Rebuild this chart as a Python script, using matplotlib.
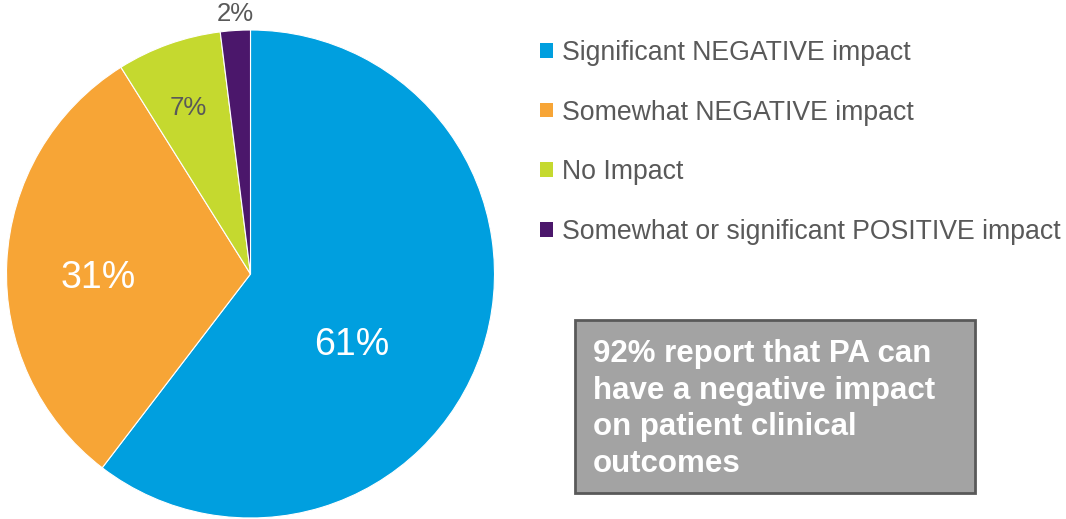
import matplotlib.pyplot as plt
from matplotlib.patches import Rectangle

plt.rcParams['font.family'] = ['Liberation Sans', 'DejaVu Sans']

# survey answers
categories = [
    "Significant NEGATIVE impact",
    "Somewhat NEGATIVE impact",
    "No Impact",
    "Somewhat or significant POSITIVE impact",
]
shares = [61, 31, 7, 2]
colors = ["#009FDF", "#F7A536", "#C5D92F", "#4B176B"]

# where each percentage sits (pixels from top-left), and its colour
label_pos = [(352, 345), (98, 278), (188, 108), (235, 14)]
label_colors = ["white", "white", "#595959", "#595959"]
label_sizes = [27, 27, 18.5, 18.5]

callout = "92% report that PA can\nhave a negative impact\non patient clinical\noutcomes"

W, H = 1066, 519
fig = plt.figure(figsize=(W / 100, H / 100), dpi=100)
ax = fig.add_axes([0, 0, 1, 1])

wedges, _ = ax.pie(
    shares,
    colors=colors,
    startangle=90,
    counterclock=False,
    center=(250.5, H - 274),
    radius=244,
    wedgeprops=dict(edgecolor="white", linewidth=0.8),
    frame=True,
)
ax.set_xlim(0, W)
ax.set_ylim(0, H)
ax.axis("off")

for v, (x, y), c, s in zip(shares, label_pos, label_colors, label_sizes):
    ax.text(x, H - y, f"{v}%", color=c, fontsize=s, ha="center", va="center")

leg = ax.legend(
    wedges, categories,
    loc="upper left",
    bbox_to_anchor=(540 / W, 1 - 40 / H),
    frameon=False,
    fontsize=19.2,
    labelcolor="#595959",
    handlelength=0.47,
    handleheight=0.47,
    handletextpad=0.36,
    labelspacing=1.26,
    borderpad=0,
    borderaxespad=0,
)
for h in leg.legend_handles:
    h.set_edgecolor("none")

ax.add_patch(Rectangle((575, H - 493), 400, 173, facecolor="#A3A3A3",
                       edgecolor="#595959", linewidth=2))
ax.text(593, H - 339, callout, color="white", fontsize=22.5, fontweight="bold",
        ha="left", va="top", linespacing=1.29)

fig.savefig("out.png", dpi=100)
